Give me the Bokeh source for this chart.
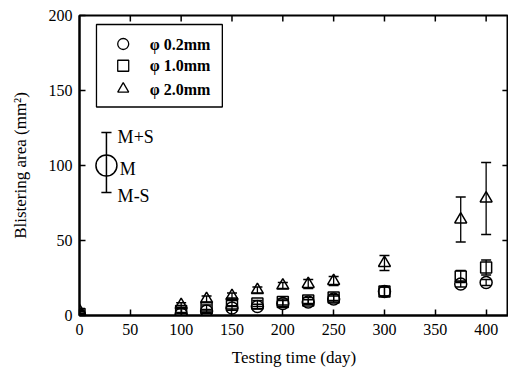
from bokeh.plotting import figure
from bokeh.models import ColumnDataSource, Whisker, TeeHead, Range1d, FixedTicker
from bokeh.core.properties import value
from bokeh.embed import file_html
from bokeh.resources import INLINE

days = [0, 100, 125, 150, 175, 200, 225, 250, 300, 375, 400]
area_02 = [0.5, 1, 3, 5, 6, 8, 9, 11, 16, 21, 22]
err_02 = [0.5, 1, 1, 1.5, 1.5, 2, 1.5, 2, 3, 2, 2]
area_10 = [1, 3, 5, 8, 8, 9, 10, 12, 16, 26, 32]
err_10 = [0.5, 1.5, 2, 2, 2, 2, 2, 2, 3, 4, 5]
area_20 = [3, 7, 11, 13, 17, 20, 21, 23, 35, 64, 78]
err_20 = [0.5, 1.5, 2, 2, 2, 2, 3, 3, 5, 15, 24]
labels = ["\u03c6 0.2mm", "\u03c6 1.0mm", "\u03c6 2.0mm"]
markers = ["circle", "square", "triangle"]
x_ticks = [0, 50, 100, 150, 200, 250, 300, 350, 400]
y_ticks = [0, 50, 100, 150, 200]

FONT = "Liberation Serif"
X_MAX, Y_MAX = 422, 200

p = figure(width=508, height=369, output_backend="svg", toolbar_location=None,
           x_range=Range1d(0, X_MAX), y_range=Range1d(0, Y_MAX),
           min_border_left=79, min_border_top=15, min_border_right=0, min_border_bottom=0)
p.grid.visible = False
p.outline_line_color = "black"
p.outline_line_width = 2
p.background_fill_color = "white"
p.border_fill_color = "white"

for ax in (p.xaxis[0], p.yaxis[0]):
    ax.major_tick_in = 6
    ax.major_tick_out = 0
    ax.minor_tick_line_color = None
    ax.axis_line_width = 2
    ax.axis_line_color = "black"
    ax.major_tick_line_color = "black"
    ax.major_tick_line_width = 1.5
    ax.major_label_text_font = FONT
    ax.major_label_text_font_size = "16px"
    ax.major_label_text_color = "black"
    ax.axis_label_text_font = FONT
    ax.axis_label_text_font_size = "17px"
    ax.axis_label_text_color = "black"
    ax.axis_label_text_font_style = "normal"

p.xaxis[0].ticker = FixedTicker(ticks=x_ticks)
p.yaxis[0].ticker = FixedTicker(ticks=y_ticks)
p.xaxis[0].axis_label = "Testing time (day)"
p.yaxis[0].axis_label = "Blistering area (mm\u00b2)"
p.xaxis[0].major_label_standoff = 8
p.yaxis[0].major_label_standoff = 7
p.xaxis[0].axis_label_standoff = 10
p.yaxis[0].axis_label_standoff = 16

# inward ticks on the top and right frame edges (same tick lists as the axes)
top_t = [t for t in x_ticks if t > 0]
p.segment(top_t, [Y_MAX] * len(top_t), top_t, [Y_MAX - 4] * len(top_t),
          line_color="black", line_width=1.5)
right_t = [t for t in y_ticks if 0 < t < Y_MAX]
p.segment([X_MAX] * len(right_t), right_t, [X_MAX - 6] * len(right_t), right_t,
          line_color="black", line_width=1.5)

series = [(area_02, err_02), (area_10, err_10), (area_20, err_20)]
for (vals, errs), m in zip(series, markers):
    src = ColumnDataSource(dict(x=days, y=vals,
                                lo=[v - e for v, e in zip(vals, errs)],
                                hi=[v + e for v, e in zip(vals, errs)]))
    w = Whisker(base="x", upper="hi", lower="lo", source=src, line_width=1.3, line_color="black",
                upper_head=TeeHead(size=10, line_width=1.3), lower_head=TeeHead(size=10, line_width=1.3))
    p.add_layout(w)
    p.scatter("x", "y", source=src, marker=m, size=12 if m != "square" else 11,
              fill_color=None, line_color="black", line_width=1.5)

# legend box
p.quad(left=[16.7], right=[140.5], bottom=[139], top=[194], fill_color="white",
       line_color="black", line_width=1.3)
leg_y = [181, 166.5, 151]
for m, ly, lab in zip(markers, leg_y, labels):
    p.scatter([43], [ly], marker=m, size=11, fill_color=None, line_color="black", line_width=1.3)
    p.text([69], [ly], text=[lab], text_font=value(FONT), text_font_size="16px",
           text_font_style="bold", text_baseline="middle", text_color="black")

# M +/- S key
p.segment([26.5], [82], [26.5], [122], line_color="black", line_width=1.5)
p.segment([21.5, 21.5], [82, 122], [31.5, 31.5], [82, 122], line_color="black", line_width=1.5)
p.scatter([26.5], [100], marker="circle", size=21, fill_color=None, line_color="black", line_width=1.5)
p.text([37.5, 39.5, 37.5], [119, 98, 80], text=["M+S", "M", "M-S"], text_font=value(FONT),
       text_font_size="18px", text_baseline="middle", text_color="black")

open("out.html", "w").write(file_html(p, INLINE))
